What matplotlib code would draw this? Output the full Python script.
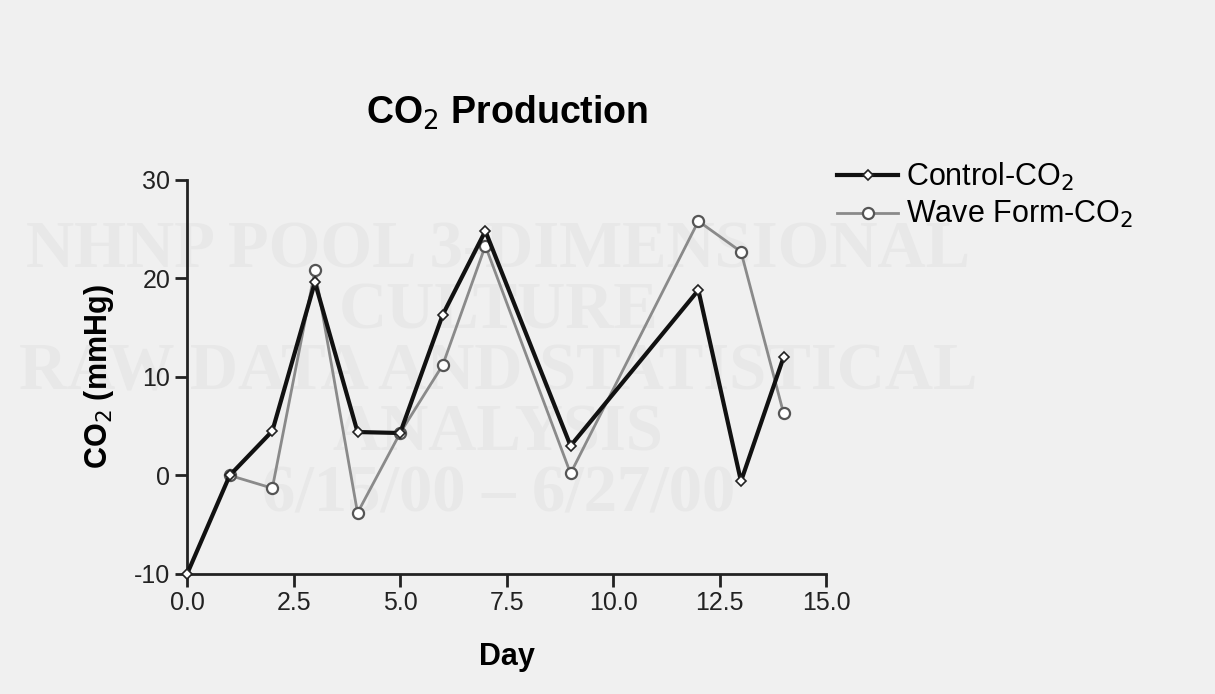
import matplotlib.pyplot as plt

# Datos
dias_control = [0, 1, 2, 3, 4, 5, 6, 7, 9, 12, 13, 14]
co2_control = [-10, 0, 4.5, 19.6, 4.4, 4.3, 16.3, 24.8, 3.0, 18.8, -0.6, 12.0]

dias_wave = [1, 2, 3, 4, 5, 6, 7, 9, 12, 13, 14]
co2_wave = [0, -1.3, 20.8, -3.8, 4.3, 11.2, 23.3, 0.2, 25.8, 22.7, 6.3]

x_ticks = [0.0, 2.5, 5.0, 7.5, 10.0, 12.5, 15.0]
y_ticks = [-10, 0, 10, 20, 30]

marca_agua = ("NHNP POOL 3-DIMENSIONAL\nCULTURE\n"
              "RAW DATA AND STATISTICAL\nANALYSIS\n6/15/00 \u2013 6/27/00")

plt.rcParams['font.family'] = ['Liberation Sans', 'DejaVu Sans']
plt.rcParams['axes.unicode_minus'] = False

fig = plt.figure(figsize=(12.15, 6.94), dpi=100, facecolor='#f0f0f0')
ax = fig.add_axes([0.154, 0.173, 0.526, 0.568])
ax.set_facecolor('none')
ax.set_zorder(2)  # los ejes por encima de la marca de agua

# texto de fondo (marca de agua del escaneo), muy tenue
fig.text(0.41, 0.462, marca_agua, ha='center', va='center', fontsize=48,
         family='Liberation Serif', fontweight='bold', color='#e8e8e8',
         linespacing=1.0, zorder=0)

ax.plot(dias_wave, co2_wave, color='#8a8a8a', lw=2, marker='o', ms=8,
        mfc='white', mec='#555555', mew=1.6, label='Wave Form-CO$_2$',
        clip_on=False, zorder=3)
ax.plot(dias_control, co2_control, color='#111111', lw=3, marker='D', ms=5,
        mfc='white', mec='#222222', mew=1.2, label='Control-CO$_2$',
        clip_on=False, zorder=4)

ax.set_xlim(0, 15)
ax.set_ylim(-10, 30)
ax.set_xticks(x_ticks)
ax.set_xticklabels([f'{t:.1f}' for t in x_ticks])
ax.set_yticks(y_ticks)

for lado in ['top', 'right']:
    ax.spines[lado].set_visible(False)
for lado in ['left', 'bottom']:
    ax.spines[lado].set_linewidth(2)
    ax.spines[lado].set_color('#222222')
ax.tick_params(width=2, length=9, labelsize=18, colors='#222222', pad=3)

ax.set_xlabel('Day', fontsize=22, fontweight='bold', labelpad=20)
ax.set_ylabel('CO$_2$ (mmHg)', fontsize=22, fontweight='bold', labelpad=13)
ax.set_title('CO$_2$ Production', fontsize=27, fontweight='bold', pad=40)

handles, labels = ax.get_legend_handles_labels()
leg = fig.legend(handles[::-1], labels[::-1], loc='upper left',
                 bbox_to_anchor=(0.689, 0.768), frameon=False, fontsize=22,
                 handlelength=2.0, handletextpad=0.25, labelspacing=0.2,
                 borderaxespad=0, borderpad=0, numpoints=1)
leg.set_zorder(3)

fig.savefig('out.png', dpi=100, facecolor=fig.get_facecolor())
